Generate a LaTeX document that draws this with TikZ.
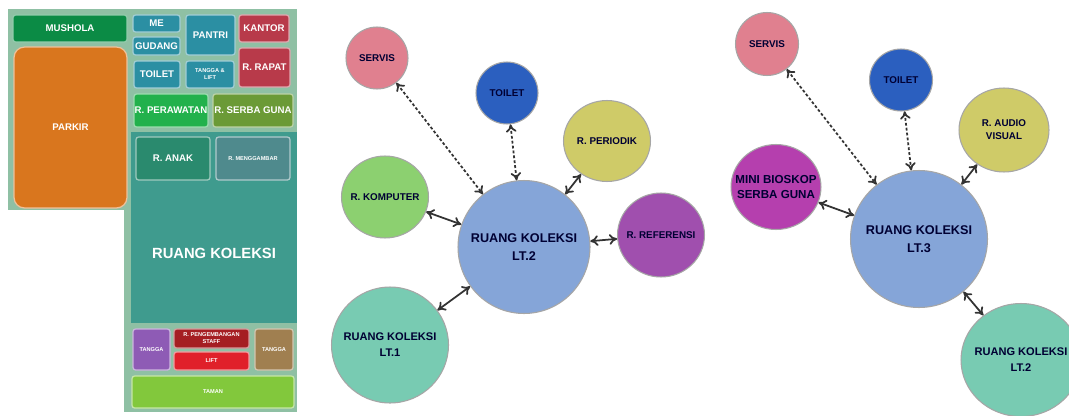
\documentclass[tikz,border=0pt]{standalone}
\usepackage{fontspec}
\setmainfont{Liberation Sans}
\usepackage{tikz}
\usetikzlibrary{shapes.geometric,arrows.meta}

\definecolor{planbg}{HTML}{8FC0A4}
\definecolor{koleksibg}{HTML}{3F9B8E}
\definecolor{mushola}{HTML}{0B8B45}
\definecolor{parkir}{HTML}{D9761E}
\definecolor{servis}{HTML}{2B8FA3}
\definecolor{kantor}{HTML}{B83A4A}
\definecolor{rawat}{HTML}{22B14C}
\definecolor{serba}{HTML}{6B9A36}
\definecolor{anak}{HTML}{2A8A6E}
\definecolor{gambar}{HTML}{4F8A8D}
\definecolor{ungu}{HTML}{8E5BB5}
\definecolor{coklat}{HTML}{A07F50}
\definecolor{merahtua}{HTML}{A51E22}
\definecolor{merah}{HTML}{E0202A}
\definecolor{taman}{HTML}{82C83C}
\definecolor{cservis}{HTML}{E0808F}
\definecolor{ctoilet}{HTML}{2B5FBF}
\definecolor{ckuning}{HTML}{CFCB68}
\definecolor{chijau}{HTML}{8CD070}
\definecolor{cungu}{HTML}{A04FAE}
\definecolor{cbiru}{HTML}{85A5D8}
\definecolor{ctosca}{HTML}{78CBB2}
\definecolor{cmagenta}{HTML}{B53FAE}

\tikzset{
  room/.style={draw=#1!45!white,line width=0.7pt,fill=#1,rounded corners=1.5pt,
    text=white,font=\bfseries\fontsize{5.5}{6.5}\selectfont,align=center,inner sep=0pt},
  tinyroom/.style={room=#1,font=\bfseries\fontsize{3.2}{4}\selectfont},
  bubble/.style={ellipse,draw=black!35,line width=0.6pt,fill=#1,inner sep=-9pt,
    text=black!80!blue,font=\bfseries\fontsize{5.6}{7.5}\selectfont,align=center},
  bigbubble/.style={bubble=#1,font=\bfseries\fontsize{7.2}{10}\selectfont},
  sidebubble/.style={bubble=#1,font=\bfseries\fontsize{6.3}{9}\selectfont},
  link/.style={{To[length=4.5pt,width=6pt]}-{To[length=4.5pt,width=6pt]},line width=1pt,black!80},
  dashlink/.style={link,dash pattern=on 1.6pt off 1.2pt}
}

\begin{document}
\begin{tikzpicture}[x=0.02cm,y=-0.02cm]
\clip (0,0) rectangle (1069,416);
\fill[white] (0,0) rectangle (1069,416);

% denah
\fill[planbg] (8,9) rectangle (297,210);
\fill[planbg] (124,210) rectangle (297,412);
\fill[koleksibg] (131,132) rectangle (297,323);

\node[room=mushola,minimum width=2.28cm,minimum height=0.54cm] (mushola) at (70,28.5) {MUSHOLA};
\node[room=parkir,rounded corners=6pt,minimum width=2.26cm,minimum height=3.22cm] (parkir) at (70.5,127.5) {PARKIR};
\node[room=servis,minimum width=0.94cm,minimum height=0.34cm] (me) at (156.5,23.5) {ME};
\node[room=servis,minimum width=0.94cm,minimum height=0.36cm] (gudang) at (156.5,46) {GUDANG};
\node[room=servis,minimum width=0.92cm,minimum height=0.54cm] (toilet) at (157,74.5) {TOILET};
\node[room=servis,minimum width=0.98cm,minimum height=0.8cm] (pantri) at (210.5,35) {PANTRI};
\node[tinyroom=servis,minimum width=0.96cm,minimum height=0.54cm] (tangga) at (210,74.5) {TANGGA \&\\LIFT};
\node[room=kantor,minimum width=1cm,minimum height=0.54cm] (kantor) at (264,28.5) {KANTOR};
\node[room=kantor,minimum width=1.02cm,minimum height=0.78cm] (rapat) at (264.5,67.5) {R. RAPAT};
\node[room=rawat,minimum width=1.48cm,minimum height=0.66cm] (rawat) at (171,110.5) {R. PERAWATAN};
\node[room=serba,minimum width=1.6cm,minimum height=0.66cm] (serba) at (253,110.5) {R. SERBA GUNA};
\node[room=anak,minimum width=1.48cm,minimum height=0.86cm] (anak) at (173,158.5) {R. ANAK};
\node[tinyroom=gambar,minimum width=1.48cm,minimum height=0.86cm] (gambar) at (253,158.5) {R. MENGGAMBAR};
\node[text=white,font=\bfseries\fontsize{8.4}{10}\selectfont] (koleksi) at (214,253) {RUANG KOLEKSI};
\node[tinyroom=ungu,minimum width=0.74cm,minimum height=0.82cm] (ungu) at (151.5,349.5) {TANGGA};
\node[tinyroom=merahtua,minimum width=1.5cm,minimum height=0.38cm] (staf) at (211.5,338.5) {R. PENGEMBANGAN\\STAFF};
\node[tinyroom=merah,minimum width=1.5cm,minimum height=0.36cm] (lift) at (211.5,361) {LIFT};
\node[tinyroom=coklat,minimum width=0.76cm,minimum height=0.82cm] (coklat) at (274,349.5) {TANGGA};
\node[tinyroom=taman,minimum width=3.24cm,minimum height=0.64cm] (taman) at (213,392) {TAMAN};

% lantai 2
\node[bubble=cservis,minimum width=1.24cm,minimum height=1.24cm] (servisa) at (377,58) {SERVIS};
\node[bubble=ctoilet,minimum width=1.24cm,minimum height=1.24cm] (toileta) at (507,93) {TOILET};
\node[bubble=ckuning,minimum width=1.74cm,minimum height=1.62cm] (periodik) at (607,141) {R. PERIODIK};
\node[bubble=chijau,minimum width=1.74cm,minimum height=1.64cm] (komputer) at (385,197) {R. KOMPUTER};
\node[bubble=cungu,minimum width=1.74cm,minimum height=1.68cm] (referensi) at (661,235) {R. REFERENSI};
\node[bigbubble=cbiru,minimum width=2.64cm,minimum height=2.66cm] (lantaidua) at (524,247) {RUANG KOLEKSI\\LT.2};
\node[sidebubble=ctosca,minimum width=2.34cm,minimum height=2.32cm] (lantaisatu) at (390,345) {RUANG KOLEKSI\\LT.1};

\draw[dashlink] (servisa) -- (lantaidua);
\draw[dashlink] (toileta) -- (lantaidua);
\draw[link] (periodik) -- (lantaidua);
\draw[link] (komputer) -- (lantaidua);
\draw[link] (referensi) -- (lantaidua);
\draw[link] (lantaisatu) -- (lantaidua);

% lantai 3
\node[bubble=cservis,minimum width=1.26cm,minimum height=1.26cm] (servisb) at (767,44) {SERVIS};
\node[bubble=ctoilet,minimum width=1.26cm,minimum height=1.24cm] (toiletb) at (901,80) {TOILET};
\node[bubble=ckuning,minimum width=1.8cm,minimum height=1.68cm] (audio) at (1004,130) {R. AUDIO\\VISUAL};
\node[bubble=cmagenta,minimum width=1.8cm,minimum height=1.7cm,font=\bfseries\fontsize{6.6}{9}\selectfont] (bioskop) at (776,187) {MINI BIOSKOP\\SERBA GUNA};
\node[bigbubble=cbiru,minimum width=2.74cm,minimum height=2.74cm] (lantaitiga) at (919,239) {RUANG KOLEKSI\\LT.3};
\node[sidebubble=ctosca,minimum width=2.4cm,minimum height=2.26cm] (lantaiduab) at (1021,360) {RUANG KOLEKSI\\LT.2};

\draw[dashlink] (servisb) -- (lantaitiga);
\draw[dashlink] (toiletb) -- (lantaitiga);
\draw[link] (audio) -- (lantaitiga);
\draw[link] (bioskop) -- (lantaitiga);
\draw[link] (lantaiduab) -- (lantaitiga);

\end{tikzpicture}
\end{document}
